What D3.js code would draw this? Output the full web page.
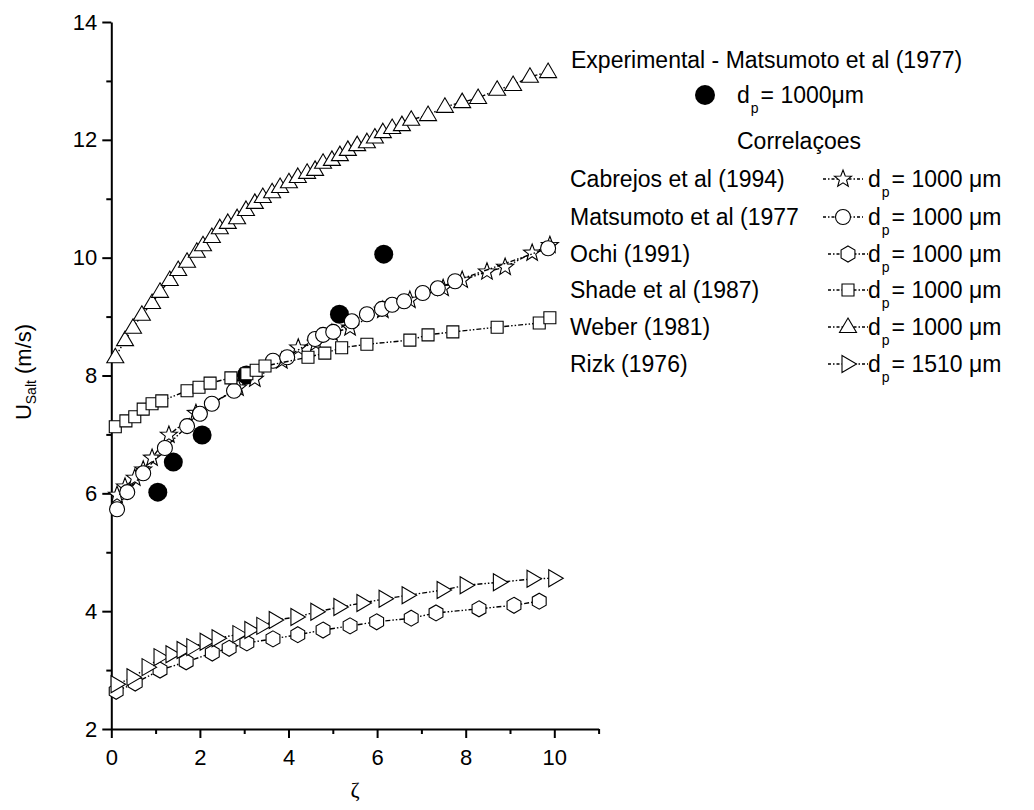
<!DOCTYPE html>
<html>
<head>
<meta charset="utf-8">
<script src="https://cdn.jsdelivr.net/npm/d3@7"></script>
<style>
  body { margin: 0; background: #fff; }
  text { font-family: "Liberation Sans", Arial, sans-serif; fill: #000; }
</style>
</head>
<body>
<div id="chart"></div>
<script>
// data: [zeta, U_salt]
var experimental = [[1.05, 6.02], [1.4, 6.53], [2.05, 6.99], [3.05, 8.01], [5.15, 9.04], [6.15, 10.06]];

var cabrejos = [[0.13, 5.97], [0.31, 6.11], [0.53, 6.26], [0.72, 6.4], [0.92, 6.6], [1.3, 6.99], [1.91, 7.36],
  [2.86, 7.79], [3.24, 7.94], [3.85, 8.25], [4.22, 8.47], [4.62, 8.55], [4.98, 8.72], [5.39, 8.81],
  [6.13, 9.11], [6.74, 9.28], [7.49, 9.48], [7.92, 9.62], [8.48, 9.76], [8.89, 9.84], [9.5, 10.08], [9.9, 10.21]];

var matsumoto = [[0.13, 5.73], [0.36, 6.02], [0.72, 6.34], [1.21, 6.77], [1.71, 7.14], [2.0, 7.35], [2.27, 7.52],
  [2.77, 7.74], [3.65, 8.25], [3.97, 8.31], [4.6, 8.62], [4.78, 8.69], [5.01, 8.74], [5.43, 8.92],
  [5.77, 9.04], [6.11, 9.13], [6.34, 9.2], [6.61, 9.26], [7.03, 9.4], [7.37, 9.48], [7.76, 9.6], [9.86, 10.16]];

var ochi = [[0.11, 2.64], [0.54, 2.78], [1.1, 3.0], [1.69, 3.14], [2.28, 3.29], [2.66, 3.37], [3.06, 3.46],
  [3.65, 3.53], [4.21, 3.6], [4.78, 3.68], [5.39, 3.75], [5.99, 3.82], [6.77, 3.88], [7.33, 3.97],
  [8.3, 4.04], [9.09, 4.1], [9.66, 4.17]];

var shade = [[0.09, 7.13], [0.33, 7.23], [0.53, 7.3], [0.72, 7.43], [0.92, 7.52], [1.14, 7.57], [1.71, 7.74],
  [1.98, 7.8], [2.23, 7.87], [2.7, 7.96], [3.06, 8.03], [3.27, 8.09], [3.47, 8.16], [4.44, 8.31],
  [4.82, 8.38], [5.2, 8.47], [5.77, 8.53], [6.74, 8.6], [7.15, 8.69], [7.71, 8.74], [8.71, 8.82],
  [9.66, 8.89], [9.9, 8.98]];

var weber = [[0.09, 8.31], [0.31, 8.6], [0.49, 8.81], [0.69, 9.03], [0.92, 9.23], [1.1, 9.42], [1.32, 9.62],
  [1.51, 9.79], [1.71, 9.93], [1.93, 10.1], [2.07, 10.21], [2.27, 10.35], [2.45, 10.5], [2.63, 10.59],
  [2.84, 10.67], [3.04, 10.81], [3.24, 10.93], [3.42, 11.03], [3.63, 11.11], [3.81, 11.2], [4.01, 11.28],
  [4.21, 11.37], [4.42, 11.44], [4.6, 11.49], [4.78, 11.61], [4.98, 11.66], [5.16, 11.74], [5.34, 11.83],
  [5.55, 11.91], [5.77, 11.96], [5.95, 12.04], [6.13, 12.13], [6.34, 12.2], [6.56, 12.25], [6.77, 12.34],
  [7.15, 12.42], [7.53, 12.56], [7.92, 12.64], [8.28, 12.71], [8.71, 12.85], [9.07, 12.93], [9.45, 13.07],
  [9.86, 13.15]];

var rizk = [[0.13, 2.76], [0.49, 2.88], [0.83, 3.05], [1.1, 3.22], [1.37, 3.27], [1.62, 3.34], [1.84, 3.39],
  [2.14, 3.48], [2.41, 3.54], [2.88, 3.61], [3.15, 3.68], [3.42, 3.75], [3.7, 3.85], [4.19, 3.9],
  [4.64, 3.99], [5.16, 4.07], [5.68, 4.14], [6.18, 4.21], [6.7, 4.27], [7.49, 4.36], [8.01, 4.44],
  [8.76, 4.49], [9.52, 4.55], [10.01, 4.56]];

var seriesNames = ["Cabrejos et al (1994)", "Matsumoto et al (1977", "Ochi (1991)", "Shade et al (1987)", "Weber (1981)", "Rizk (1976)"];
var seriesDiam = ["1000", "1000", "1000", "1000", "1000", "1510"];
var seriesShapes = ["star", "circle", "hexagon", "square", "triangle", "rtriangle"];
var seriesData = [cabrejos, matsumoto, ochi, shade, weber, rizk];

var xTicks = [0, 2, 4, 6, 8, 10];
var xMinor = [1, 3, 5, 7, 9, 11];
var yTicks = [2, 4, 6, 8, 10, 12, 14];
var yMinor = [3, 5, 7, 9, 11, 13];

var width = 1034, height = 810;

var svg = d3.select("#chart").append("svg")
  .attr("width", width)
  .attr("height", height);

var x = d3.scaleLinear().domain([0, 11]).range([111.3, 598.6]);
var y = d3.scaleLinear().domain([2, 14]).range([729, 22]);

// marker outlines, centred on 0,0
function shapePath(type) {
  var p = d3.path(), i, a, r;
  if (type == "circle") {
    p.arc(0, 0, 7.5, 0, 2 * Math.PI);
  } else if (type == "square") {
    p.rect(-6, -6, 12, 12);
  } else if (type == "triangle") {
    p.moveTo(0, -9); p.lineTo(8.5, 5.5); p.lineTo(-8.5, 5.5); p.closePath();
  } else if (type == "rtriangle") {
    p.moveTo(-6, -8.5); p.lineTo(8.5, 0); p.lineTo(-6, 8.5); p.closePath();
  } else if (type == "hexagon") {
    for (i = 0; i < 6; i++) {
      a = Math.PI / 3 * i - Math.PI / 2;
      if (i == 0) p.moveTo(8 * Math.cos(a), 8 * Math.sin(a));
      else p.lineTo(8 * Math.cos(a), 8 * Math.sin(a));
    }
    p.closePath();
  } else if (type == "star") {
    for (i = 0; i < 10; i++) {
      a = Math.PI / 5 * i - Math.PI / 2;
      r = i % 2 == 0 ? 9 : 3.8;
      if (i == 0) p.moveTo(r * Math.cos(a), r * Math.sin(a));
      else p.lineTo(r * Math.cos(a), r * Math.sin(a));
    }
    p.closePath();
  }
  return p.toString();
}

var dashStyle = "5,2,1.5,2,1.5,2";

// axes
svg.append("g").attr("transform", "translate(0,729)")
  .call(d3.axisBottom(x).tickValues(xTicks).tickSize(9).tickSizeOuter(0).tickPadding(11));
svg.append("g").attr("transform", "translate(0,729)")
  .call(d3.axisBottom(x).tickValues(xMinor).tickSize(5).tickFormat("").tickSizeOuter(0))
  .select(".domain").remove();
svg.append("g").attr("transform", "translate(111.3,0)")
  .call(d3.axisLeft(y).tickValues(yTicks).tickSize(9).tickSizeOuter(0).tickPadding(5));
svg.append("g").attr("transform", "translate(111.3,0)")
  .call(d3.axisLeft(y).tickValues(yMinor).tickSize(5).tickFormat("").tickSizeOuter(0))
  .select(".domain").remove();

svg.selectAll(".domain").attr("stroke", "#000").attr("stroke-width", 2);
svg.selectAll(".tick line").attr("stroke", "#000").attr("stroke-width", 2);
svg.selectAll(".tick text").style("font-family", "Liberation Sans, Arial, sans-serif")
  .style("font-size", "22px").attr("fill", "#000");

// axis titles
svg.append("text")
  .attr("x", 355).attr("y", 797)
  .attr("text-anchor", "middle")
  .style("font-family", "Liberation Serif, serif")
  .style("font-size", "22px")
  .text("ζ");

var yl = svg.append("text")
  .attr("transform", "translate(31,372) rotate(-90)")
  .attr("text-anchor", "middle")
  .style("font-size", "22px");
yl.append("tspan").text("U");
yl.append("tspan").attr("dy", 5).style("font-size", "14px").text("Salt");
yl.append("tspan").attr("dy", -5).text(" (m/s)");

// series: dash-dot-dot line then open markers
var line = d3.line().x(function (d) { return x(d[0]); }).y(function (d) { return y(d[1]); });

svg.selectAll(".expt").data(experimental).enter()
  .append("circle")
  .attr("cx", function (d) { return x(d[0]); })
  .attr("cy", function (d) { return y(d[1]); })
  .attr("r", 9.5)
  .attr("fill", "#000");

seriesData.forEach(function (data, k) {
  svg.append("path")
    .datum(data)
    .attr("d", line)
    .attr("fill", "none")
    .attr("stroke", "#000")
    .attr("stroke-width", 1.4)
    .attr("stroke-dasharray", dashStyle);
  svg.selectAll(".m" + k).data(data).enter()
    .append("path")
    .attr("d", shapePath(seriesShapes[k]))
    .attr("transform", function (d) { return "translate(" + x(d[0]) + "," + y(d[1]) + ")"; })
    .attr("fill", "#fff")
    .attr("stroke", "#000")
    .attr("stroke-width", 1.1);
});

// d_p = ... label as one text with a subscript tspan
function dpLabel(xPos, yPos, rest) {
  var t = svg.append("text").attr("x", xPos).attr("y", yPos).style("font-size", "23px");
  t.append("tspan").text("d");
  t.append("tspan").attr("dx", 1).attr("dy", 10).style("font-size", "14px").text("p");
  t.append("tspan").attr("dx", 2).attr("dy", -10).text(rest);
}

// legend
svg.append("text").attr("x", 571).attr("y", 68).style("font-size", "23px")
  .text("Experimental - Matsumoto et al (1977)");
svg.append("circle").attr("cx", 705).attr("cy", 95).attr("r", 10).attr("fill", "#000");
dpLabel(737, 103, "= 1000μm");
svg.append("text").attr("x", 799).attr("y", 149).attr("text-anchor", "middle").style("font-size", "23px")
  .text("Correlaçoes");

var rowY = [187, 225, 262, 298, 335, 372];
var symX = [843, 843, 848, 848, 848, 848];

seriesNames.forEach(function (name, k) {
  var by = rowY[k];
  svg.append("text").attr("x", 570).attr("y", by).style("font-size", "23px").text(name);
  svg.append("line")
    .attr("x1", symX[k] - 20).attr("x2", symX[k] + 20)
    .attr("y1", by - 8).attr("y2", by - 8)
    .attr("stroke", "#000").attr("stroke-width", 1.4)
    .attr("stroke-dasharray", "3,2,1.5,2");
  svg.append("path")
    .attr("d", shapePath(seriesShapes[k]))
    .attr("transform", "translate(" + symX[k] + "," + (by - 8) + ")")
    .attr("fill", "#fff").attr("stroke", "#000").attr("stroke-width", 1.1);
  dpLabel(868, by, "= " + seriesDiam[k] + " μm");
});
</script>
</body>
</html>
